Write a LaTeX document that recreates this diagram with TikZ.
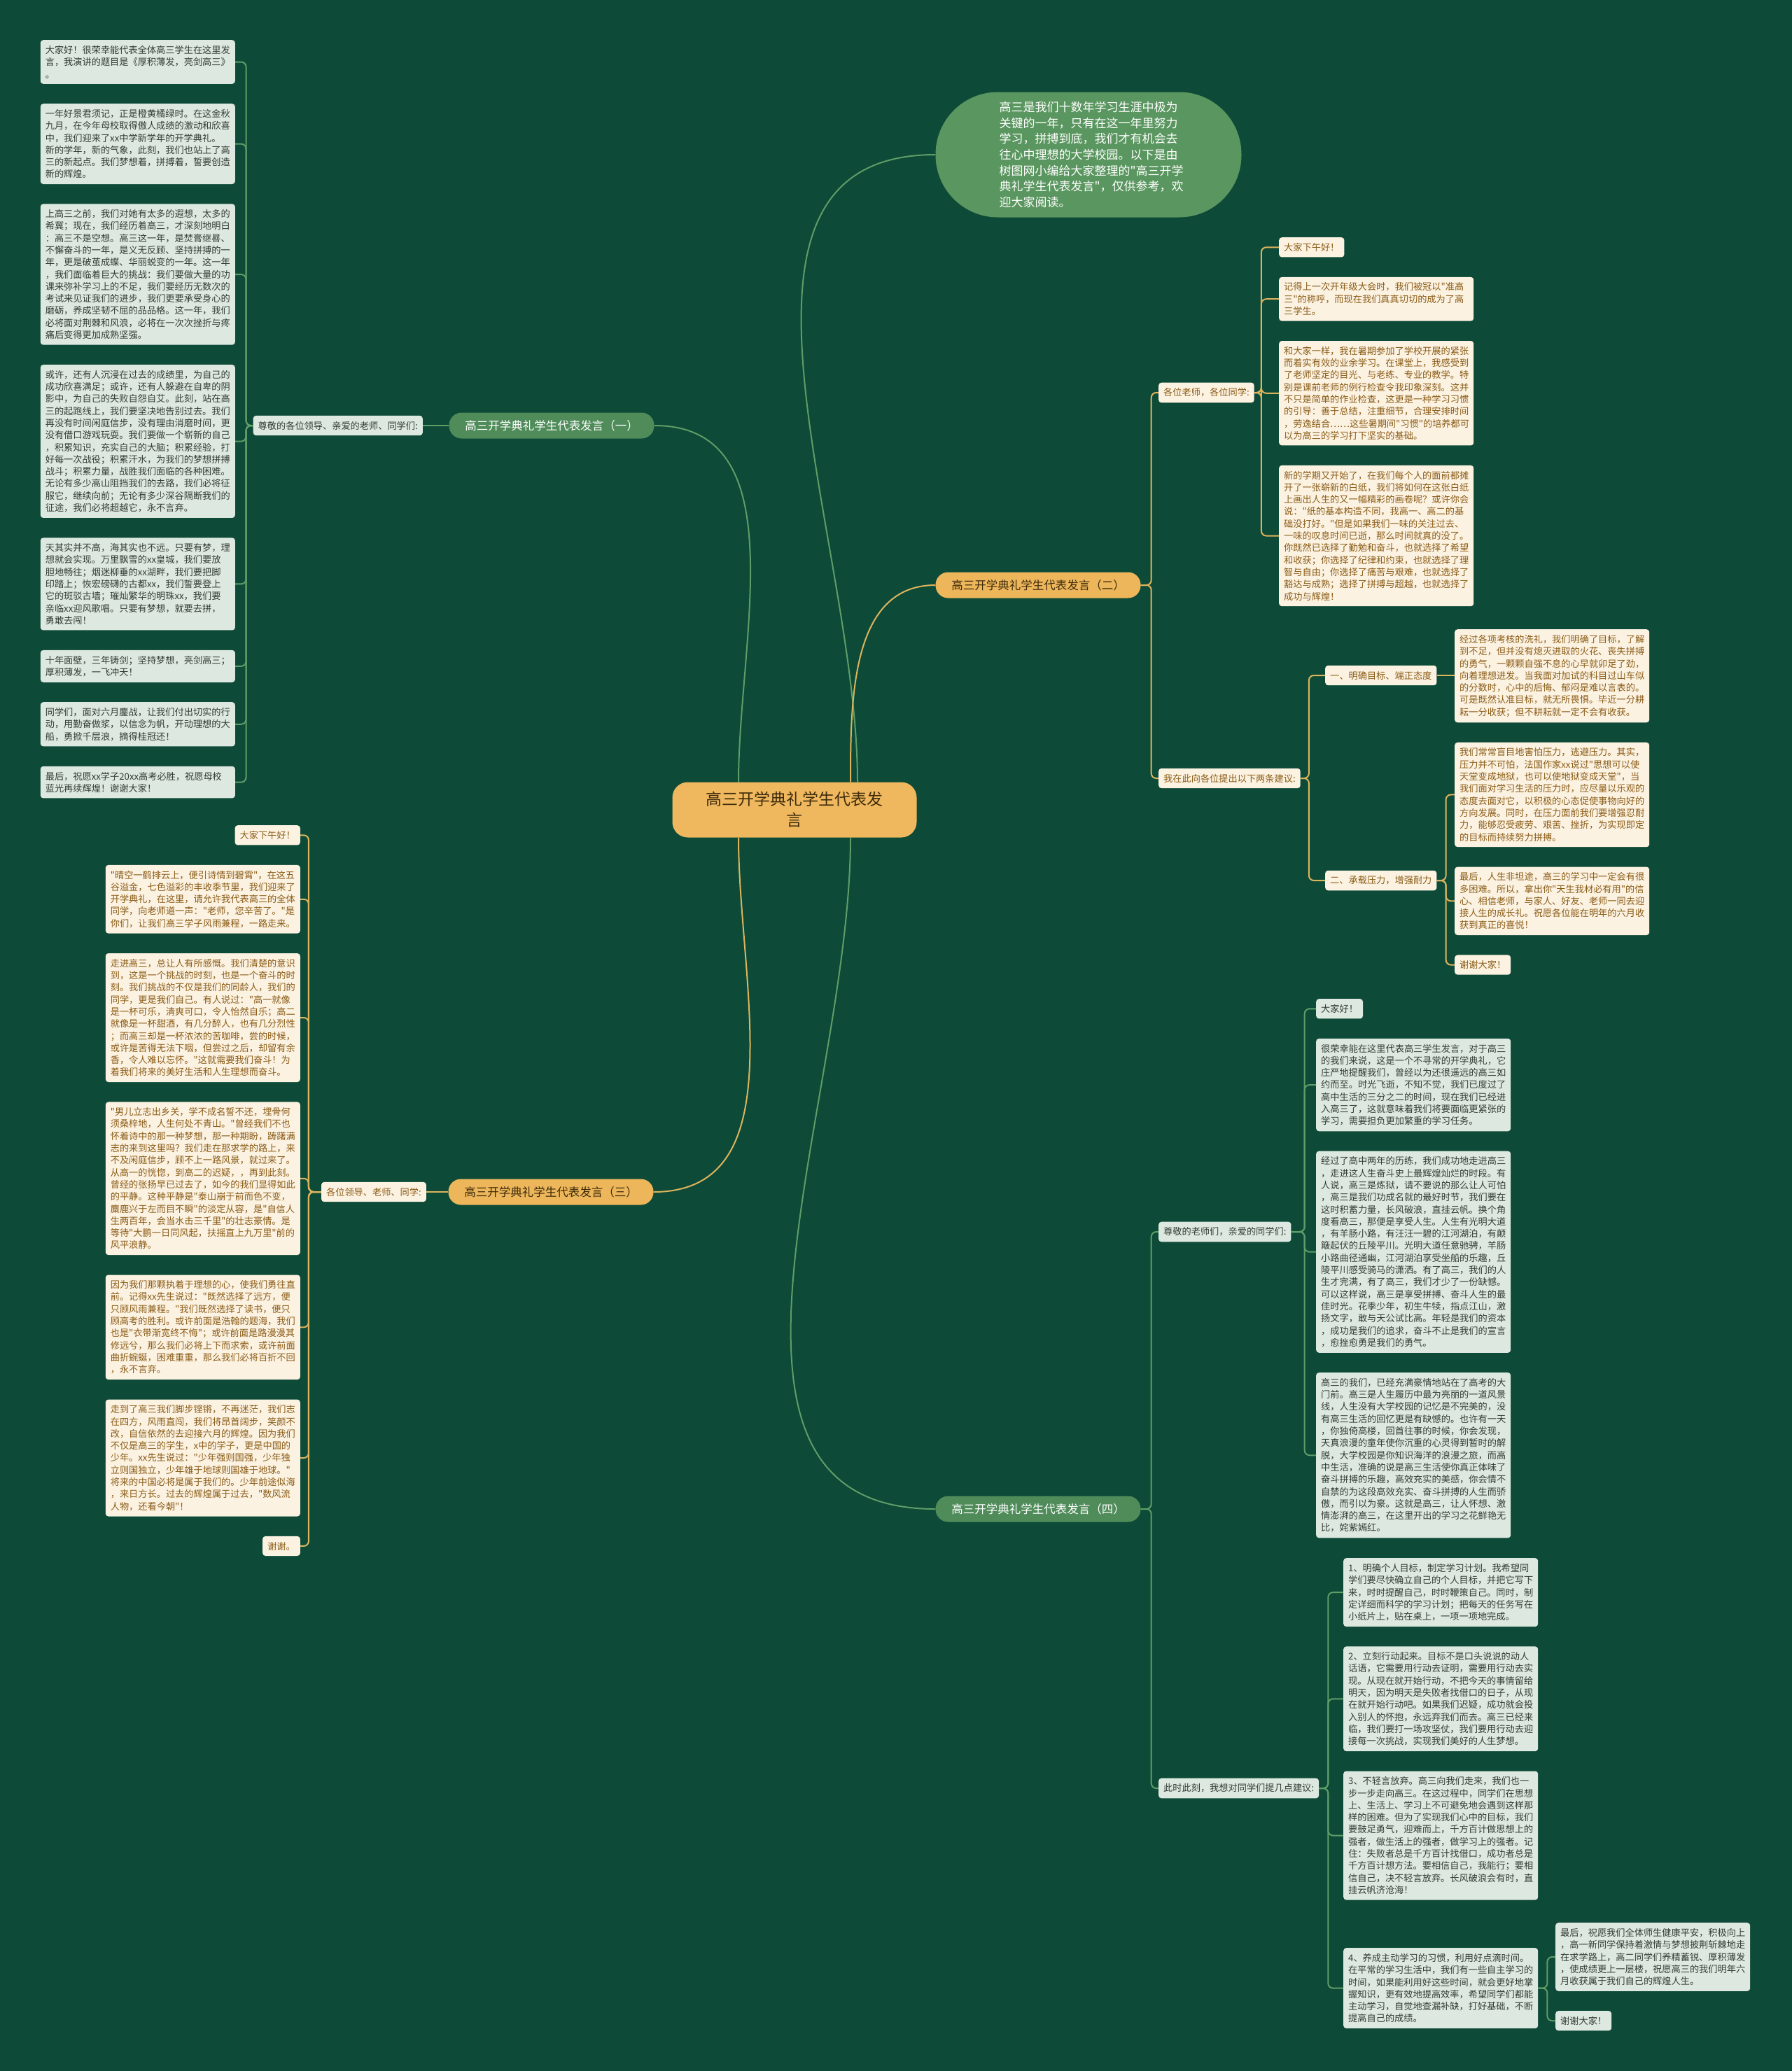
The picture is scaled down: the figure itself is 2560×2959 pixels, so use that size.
\documentclass[tikz,border=0pt]{standalone}
\usepackage{fontspec}
\setmainfont{Noto Sans CJK SC}[Ligatures=TeXOff]
\usetikzlibrary{positioning}
\definecolor{bgc}{HTML}{0D4A37}
\definecolor{gfill}{HTML}{DDE9E0}
\definecolor{gtext}{HTML}{333B35}
\definecolor{cfill}{HTML}{FCF2E2}
\definecolor{ctext}{HTML}{8A5C16}
\definecolor{gline}{HTML}{5E9D68}
\definecolor{yline}{HTML}{DDB45E}
\definecolor{gbranch}{HTML}{4F8C5A}
\definecolor{ybranch}{HTML}{EDB65A}
\definecolor{hubc}{HTML}{F0B85E}
\definecolor{introc}{HTML}{5A965F}
\definecolor{darkt}{HTML}{3E2B0C}

\begin{document}
\begin{tikzpicture}[x=1pt, y=-1pt,
  leaf/.style={rounded corners=4pt, inner xsep=7pt, inner ysep=8pt, align=left,
               font=\fontsize{13.2}{17.3}\selectfont},
  gleaf/.style={leaf, text width=264pt, fill=gfill, text=gtext},
  cleaf/.style={leaf, text width=264pt, fill=cfill, text=ctext},
  gtag/.style={leaf, fill=gfill, text=gtext},
  ctag/.style={leaf, fill=cfill, text=ctext},
  branch/.style={rounded corners=18pt, minimum width=293pt, minimum height=37pt,
                 inner sep=0pt, font=\fontsize{16.5}{18}\selectfont},
  gbr/.style={branch, fill=gbranch, text=white},
  ybr/.style={branch, fill=ybranch, text=darkt},
  gwire/.style={draw=gline, line width=2pt, rounded corners=7pt},
  ywire/.style={draw=yline, line width=2pt, rounded corners=7pt}
]
\useasboundingbox (0,0) rectangle (2560,2959);
\fill[bgc] (0,0) rectangle (2560,2959);

% centre and intro
\node[fill=hubc, text=darkt, rounded corners=22pt, minimum width=349pt, minimum height=79pt,
      align=center, font=\fontsize{23}{30}\selectfont] (hub) at (1135,1157)
  {高三开学典礼学生代表发\\言};
\node[fill=introc, text=white, rounded corners=89pt, minimum width=437pt, minimum height=179pt,
      text width=255pt, align=left, font=\fontsize{17}{22.7}\selectfont] (intro) at (1555,221)
  {高三是我们十数年学习生涯中极为\\关键的一年，只有在这一年里努力\\学习，拼搏到底，我们才有机会去\\往心中理想的大学校园。以下是由\\树图网小编给大家整理的"高三开学\\典礼学生代表发言"，仅供参考，欢\\迎大家阅读。};

\node[gbr] (b1) at (788,608) {高三开学典礼学生代表发言（一）};
\node[ybr] (b2) at (1483,836) {高三开学典礼学生代表发言（二）};
\node[ybr] (b3) at (787,1703) {高三开学典礼学生代表发言（三）};
\node[gbr] (b4) at (1483,2156) {高三开学典礼学生代表发言（四）};

% speech one
\node[gtag, anchor=east] (lab1) at (604,608) {尊敬的各位领导、亲爱的老师、同学们:};
\node[gleaf, anchor=north east] (l1a) at (336,57)
  {大家好！很荣幸能代表全体高三学生在这里发\\言，我演讲的题目是《厚积薄发，亮剑高三》\\。};
\node[gleaf, below=28pt of l1a.south east, anchor=north east] (l1b)
  {一年好景君须记，正是橙黄橘绿时。在这金秋\\九月，在今年母校取得傲人成绩的激动和欣喜\\中，我们迎来了xx中学新学年的开学典礼。\\新的学年，新的气象，此刻，我们也站上了高\\三的新起点。我们梦想着，拼搏着，誓要创造\\新的辉煌。};
\node[gleaf, below=28pt of l1b.south east, anchor=north east] (l1c)
  {上高三之前，我们对她有太多的遐想，太多的\\希冀；现在，我们经历着高三，才深刻地明白\\：高三不是空想。高三这一年，是焚膏继晷、\\不懈奋斗的一年，是义无反顾、坚持拼搏的一\\年，更是破茧成蝶、华丽蜕变的一年。这一年\\，我们面临着巨大的挑战：我们要做大量的功\\课来弥补学习上的不足，我们要经历无数次的\\考试来见证我们的进步，我们更要承受身心的\\磨砺，养成坚韧不屈的品品格。这一年，我们\\必将面对荆棘和风浪，必将在一次次挫折与疼\\痛后变得更加成熟坚强。};
\node[gleaf, below=28pt of l1c.south east, anchor=north east] (l1d)
  {或许，还有人沉浸在过去的成绩里，为自己的\\成功欣喜满足；或许，还有人躲避在自卑的阴\\影中，为自己的失败自怨自艾。此刻，站在高\\三的起跑线上，我们要坚决地告别过去。我们\\再没有时间闲庭信步，没有理由消磨时间，更\\没有借口游戏玩耍。我们要做一个崭新的自己\\，积累知识，充实自己的大脑；积累经验，打\\好每一次战役；积累汗水，为我们的梦想拼搏\\战斗；积累力量，战胜我们面临的各种困难。\\无论有多少高山阻挡我们的去路，我们必将征\\服它，继续向前；无论有多少深谷隔断我们的\\征途，我们必将超越它，永不言弃。};
\node[gleaf, below=28pt of l1d.south east, anchor=north east] (l1e)
  {天其实并不高，海其实也不远。只要有梦，理\\想就会实现。万里飘雪的xx皇城，我们要放\\胆地畅往；烟迷柳垂的xx湖畔，我们要把脚\\印踏上；恢宏磅礴的古都xx，我们誓要登上\\它的斑驳古墙；璀灿繁华的明珠xx，我们要\\亲临xx迎风歌唱。只要有梦想，就要去拼，\\勇敢去闯！};
\node[gleaf, below=28pt of l1e.south east, anchor=north east] (l1f)
  {十年面壁，三年铸剑；坚持梦想，亮剑高三；\\厚积薄发，一飞冲天！};
\node[gleaf, below=28pt of l1f.south east, anchor=north east] (l1g)
  {同学们，面对六月鏖战，让我们付出切实的行\\动，用勤奋做浆，以信念为帆，开动理想的大\\船，勇掀千层浪，摘得桂冠还！};
\node[gleaf, below=28pt of l1g.south east, anchor=north east] (l1h)
  {最后，祝愿xx学子20xx高考必胜，祝愿母校\\蓝光再续辉煌！谢谢大家！};

% speech three
\node[ctag, anchor=east] (lab3) at (609,1703) {各位领导、老师、同学:};
\node[ctag, anchor=north east] (l3a) at (429,1179) {大家下午好！};
\node[cleaf, below=28pt of l3a.south east, anchor=north east] (l3b)
  {"晴空一鹤排云上，便引诗情到碧霄"，在这五\\谷溢金，七色溢彩的丰收季节里，我们迎来了\\开学典礼，在这里，请允许我代表高三的全体\\同学，向老师道一声："老师，您辛苦了。"是\\你们，让我们高三学子风雨兼程，一路走来。};
\node[cleaf, below=28pt of l3b.south east, anchor=north east] (l3c)
  {走进高三，总让人有所感慨。我们清楚的意识\\到，这是一个挑战的时刻，也是一个奋斗的时\\刻。我们挑战的不仅是我们的同龄人，我们的\\同学，更是我们自己。有人说过："高一就像\\是一杯可乐，清爽可口，令人怡然自乐；高二\\就像是一杯甜酒，有几分醉人，也有几分烈性\\；而高三却是一杯浓浓的苦咖啡，尝的时候，\\或许是苦得无法下咽，但尝过之后，却留有余\\香，令人难以忘怀。"这就需要我们奋斗！为\\着我们将来的美好生活和人生理想而奋斗。};
\node[cleaf, below=28pt of l3c.south east, anchor=north east] (l3d)
  {"男儿立志出乡关，学不成名誓不还，埋骨何\\须桑梓地，人生何处不青山。"曾经我们不也\\怀着诗中的那一种梦想，那一种期盼，踌躇满\\志的来到这里吗？我们走在那求学的路上，来\\不及闲庭信步，顾不上一路风景，就过来了。\\从高一的恍惚，到高二的迟疑，，再到此刻。\\曾经的张扬早已过去了，如今的我们显得如此\\的平静。这种平静是"泰山崩于前而色不变，\\麋鹿兴于左而目不瞬"的淡定从容，是"自信人\\生两百年，会当水击三千里"的壮志豪情。是\\等待"大鹏一日同风起，扶摇直上九万里"前的\\风平浪静。};
\node[cleaf, below=28pt of l3d.south east, anchor=north east] (l3e)
  {因为我们那颗执着于理想的心，使我们勇往直\\前。记得xx先生说过："既然选择了远方，便\\只顾风雨兼程。"我们既然选择了读书，便只\\顾高考的胜利。或许前面是浩翰的题海，我们\\也是"衣带渐宽终不悔"；或许前面是路漫漫其\\修远兮，那么我们必将上下而求索，或许前面\\曲折蜿蜒，困难重重，那么我们必将百折不回\\，永不言弃。};
\node[cleaf, below=28pt of l3e.south east, anchor=north east] (l3f)
  {走到了高三我们脚步铿锵，不再迷茫，我们志\\在四方，风雨直闯，我们将昂首阔步，笑颜不\\改，自信依然的去迎接六月的辉煌。因为我们\\不仅是高三的学生，x中的学子，更是中国的\\少年。xx先生说过："少年强则国强，少年独\\立则国独立，少年雄于地球则国雄于地球。"\\将来的中国必将是属于我们的。少年前途似海\\，来日方长。过去的辉煌属于过去，"数风流\\人物，还看今朝"！};
\node[ctag, below=28pt of l3f.south east, anchor=north east] (l3g) {谢谢。};

% speech two
\node[ctag, anchor=west] (lab2a) at (1655,561) {各位老师，各位同学:};
\node[ctag, anchor=west] (lab2b) at (1655,1112) {我在此向各位提出以下两条建议:};
\node[ctag, anchor=north west] (r2a) at (1827,339) {大家下午好！};
\node[cleaf, below=28pt of r2a.south west, anchor=north west] (r2b)
  {记得上一次开年级大会时，我们被冠以"准高\\三"的称呼，而现在我们真真切切的成为了高\\三学生。};
\node[cleaf, below=28pt of r2b.south west, anchor=north west] (r2c)
  {和大家一样，我在暑期参加了学校开展的紧张\\而着实有效的业余学习。在课堂上，我感受到\\了老师坚定的目光、与老练、专业的教学。特\\别是课前老师的例行检查令我印象深刻。这并\\不只是简单的作业检查，这更是一种学习习惯\\的引导：善于总结，注重细节，合理安排时间\\，劳逸结合……这些暑期间"习惯"的培养都可\\以为高三的学习打下坚实的基础。};
\node[cleaf, below=28pt of r2c.south west, anchor=north west] (r2d)
  {新的学期又开始了，在我们每个人的面前都摊\\开了一张崭新的白纸，我们将如何在这张白纸\\上画出人生的又一幅精彩的画卷呢？或许你会\\说："纸的基本构造不同，我高一、高二的基\\础没打好。"但是如果我们一味的关注过去、\\一味的叹息时间已逝，那么时间就真的没了。\\你既然已选择了勤勉和奋斗，也就选择了希望\\和收获；你选择了纪律和约束，也就选择了理\\智与自由；你选择了痛苦与艰难，也就选择了\\豁达与成熟；选择了拼搏与超越，也就选择了\\成功与辉煌！};
\node[ctag, anchor=west] (sub1) at (1893,965) {一、明确目标、端正态度};
\node[ctag, anchor=west] (sub2) at (1893,1258) {二、承载压力，增强耐力};
\node[cleaf, anchor=north west] (s1a) at (2078,899)
  {经过各项考核的洗礼，我们明确了目标，了解\\到不足，但并没有熄灭进取的火花、丧失拼搏\\的勇气，一颗颗自强不息的心早就卯足了劲，\\向着理想进发。当我面对加试的科目过山车似\\的分数时，心中的后悔、郁闷是难以言表的。\\可是既然认准目标，就无所畏惧。毕近一分耕\\耘一分收获；但不耕耘就一定不会有收获。};
\node[cleaf, below=28pt of s1a.south west, anchor=north west] (s2a)
  {我们常常盲目地害怕压力，逃避压力。其实，\\压力并不可怕，法国作家xx说过"思想可以使\\天堂变成地狱，也可以使地狱变成天堂"，当\\我们面对学习生活的压力时，应尽量以乐观的\\态度去面对它，以积极的心态促使事物向好的\\方向发展。同时，在压力面前我们要增强忍耐\\力，能够忍受疲劳、艰苦、挫折，为实现即定\\的目标而持续努力拼搏。};
\node[cleaf, below=28pt of s2a.south west, anchor=north west] (s2b)
  {最后，人生非坦途，高三的学习中一定会有很\\多困难。所以，拿出你"天生我材必有用"的信\\心、相信老师，与家人、好友、老师一同去迎\\接人生的成长礼。祝愿各位能在明年的六月收\\获到真正的喜悦！};
\node[ctag, below=28pt of s2b.south west, anchor=north west] (s2c) {谢谢大家！};

% speech four
\node[gtag, anchor=west] (lab4a) at (1655,1760) {尊敬的老师们，亲爱的同学们:};
\node[gtag, anchor=west] (lab4b) at (1655,2555) {此时此刻，我想对同学们提几点建议:};
\node[gtag, anchor=north west] (r4a) at (1880,1427) {大家好！};
\node[gleaf, below=28pt of r4a.south west, anchor=north west] (r4b)
  {很荣幸能在这里代表高三学生发言，对于高三\\的我们来说，这是一个不寻常的开学典礼，它\\庄严地提醒我们，曾经以为还很遥远的高三如\\约而至。时光飞逝，不知不觉，我们已度过了\\高中生活的三分之二的时间，现在我们已经进\\入高三了，这就意味着我们将要面临更紧张的\\学习，需要担负更加繁重的学习任务。};
\node[gleaf, below=28pt of r4b.south west, anchor=north west] (r4c)
  {经过了高中两年的历练，我们成功地走进高三\\，走进这人生奋斗史上最辉煌灿烂的时段。有\\人说，高三是炼狱，请不要说的那么让人可怕\\，高三是我们功成名就的最好时节，我们要在\\这时积蓄力量，长风破浪，直挂云帆。换个角\\度看高三，那便是享受人生。人生有光明大道\\，有羊肠小路，有汪汪一碧的江河湖泊，有颠\\簸起伏的丘陵平川。光明大道任意驰骋，羊肠\\小路曲径通幽，江河湖泊享受坐船的乐趣，丘\\陵平川感受骑马的潇洒。有了高三，我们的人\\生才完满，有了高三，我们才少了一份缺憾。\\可以这样说，高三是享受拼搏、奋斗人生的最\\佳时光。花季少年，初生牛犊，指点江山，激\\扬文字，敢与天公试比高。年轻是我们的资本\\，成功是我们的追求，奋斗不止是我们的宣言\\，愈挫愈勇是我们的勇气。};
\node[gleaf, below=28pt of r4c.south west, anchor=north west] (r4d)
  {高三的我们，已经充满豪情地站在了高考的大\\门前。高三是人生履历中最为亮丽的一道风景\\线，人生没有大学校园的记忆是不完美的，没\\有高三生活的回忆更是有缺憾的。也许有一天\\，你独倚高楼，回首往事的时候，你会发现，\\天真浪漫的童年使你沉重的心灵得到暂时的解\\脱，大学校园是你知识海洋的浪漫之旅，而高\\中生活，准确的说是高三生活使你真正体味了\\奋斗拼搏的乐趣，高效充实的美感，你会情不\\自禁的为这段高效充实、奋斗拼搏的人生而骄\\傲，而引以为豪。这就是高三，让人怀想、激\\情澎湃的高三，在这里开出的学习之花鲜艳无\\比，姹紫嫣红。};
\node[gleaf, anchor=north west] (r5a) at (1919,2226)
  {1、明确个人目标，制定学习计划。我希望同\\学们要尽快确立自己的个人目标，并把它写下\\来，时时提醒自己，时时鞭策自己。同时，制\\定详细而科学的学习计划；把每天的任务写在\\小纸片上，贴在桌上，一项一项地完成。};
\node[gleaf, below=28pt of r5a.south west, anchor=north west] (r5b)
  {2、立刻行动起来。目标不是口头说说的动人\\话语，它需要用行动去证明，需要用行动去实\\现。从现在就开始行动，不把今天的事情留给\\明天，因为明天是失败者找借口的日子，从现\\在就开始行动吧。如果我们迟疑，成功就会投\\入别人的怀抱，永远弃我们而去。高三已经来\\临，我们要打一场攻坚仗，我们要用行动去迎\\接每一次挑战，实现我们美好的人生梦想。};
\node[gleaf, below=28pt of r5b.south west, anchor=north west] (r5c)
  {3、不轻言放弃。高三向我们走来，我们也一\\步一步走向高三。在这过程中，同学们在思想\\上、生活上、学习上不可避免地会遇到这样那\\样的困难。但为了实现我们心中的目标，我们\\要鼓足勇气，迎难而上，千方百计做思想上的\\强者，做生活上的强者，做学习上的强者。记\\住：失败者总是千方百计找借口，成功者总是\\千方百计想方法。要相信自己，我能行；要相\\信自己，决不轻言放弃。长风破浪会有时，直\\挂云帆济沧海！};
\node[gleaf, anchor=north west] (r5d) at (1919,2783)
  {4、养成主动学习的习惯，利用好点滴时间。\\在平常的学习生活中，我们有一些自主学习的\\时间，如果能利用好这些时间，就会更好地掌\\握知识，更有效地提高效率，希望同学们都能\\主动学习，自觉地查漏补缺，打好基础，不断\\提高自己的成绩。};
\node[gleaf, anchor=north west] (f1) at (2222,2747)
  {最后，祝愿我们全体师生健康平安，积极向上\\，高一新同学保持着激情与梦想披荆斩棘地走\\在求学路上，高二同学们养精蓄锐、厚积薄发\\，使成绩更上一层楼，祝愿高三的我们明年六\\月收获属于我们自己的辉煌人生。};
\node[gtag, below=28pt of f1.south west, anchor=north west] (f2) {谢谢大家！};

% main curves
\draw[gwire] ([xshift=90pt]hub.north) to[out=90, in=180] (intro.west);
\draw[ywire] ([xshift=80pt]hub.north) to[out=90, in=180] (b2.west);
\draw[gwire] ([xshift=80pt]hub.south) to[out=-90, in=180] (b4.west);
\draw[gwire] ([xshift=-80pt]hub.north) to[out=90, in=0] (b1.east);
\draw[ywire] ([xshift=-80pt]hub.south) to[out=-90, in=0] (b3.east);

% elbows
\draw[gwire] (b1.west) -- (lab1.east);
\foreach \t in {l1a,l1b,l1c,l1d,l1e,l1f,l1g,l1h}
  \draw[gwire] (lab1.west) -- ++(-10,0) |- (\t.east);
\draw[ywire] (b3.west) -- (lab3.east);
\foreach \t in {l3a,l3b,l3c,l3d,l3e,l3f,l3g}
  \draw[ywire] (lab3.west) -- ++(-18,0) |- (\t.east);
\foreach \t in {lab2a,lab2b}
  \draw[ywire] (b2.east) -- ++(15,0) |- (\t.west);
\foreach \t in {r2a,r2b,r2c,r2d}
  \draw[ywire] (lab2a.east) -- ++(10,0) |- (\t.west);
\foreach \t in {sub1,sub2}
  \draw[ywire] (lab2b.east) -- ++(12,0) |- (\t.west);
\draw[ywire] (sub1.east) -- (sub1.east -| s1a.west);
\foreach \t in {s2a,s2b,s2c}
  \draw[ywire] (sub2.east) -- ++(13,0) |- (\t.west);
\foreach \t in {lab4a,lab4b}
  \draw[gwire] (b4.east) -- ++(15,0) |- (\t.west);
\foreach \t in {r4a,r4b,r4c,r4d}
  \draw[gwire] (lab4a.east) -- ++(19,0) |- (\t.west);
\foreach \t in {r5a,r5b,r5c,r5d}
  \draw[gwire] (lab4b.east) -- ++(13,0) |- (\t.west);
\foreach \t in {f1,f2}
  \draw[gwire] (r5d.east) -- ++(13,0) |- (\t.west);
\end{tikzpicture}
\end{document}
